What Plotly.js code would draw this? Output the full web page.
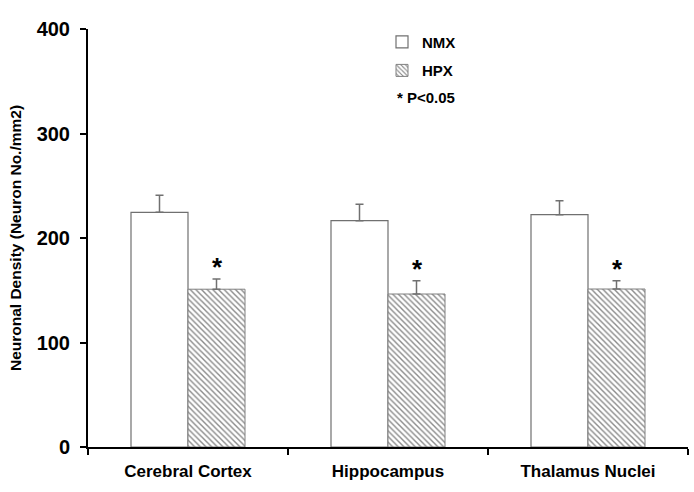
<!DOCTYPE html>
<html>
<head>
<meta charset="utf-8">
<script src="https://cdn.plot.ly/plotly-3.0.1.min.js"></script>
<style>html,body{margin:0;padding:0;background:#fff;}#chart{width:694px;height:492px;}</style>
</head>
<body>
<div id="chart"></div>
<script>
const categories = ["Cerebral Cortex", "Hippocampus", "Thalamus Nuclei"];
const nmxValues = [224.6, 216.6, 222.3];
const nmxErrors = [16.4, 15.6, 13.4];
const hpxValues = [151.0, 146.4, 151.2];
const hpxErrors = [9.8, 12.7, 8.0];
const yTicks = [0, 100, 200, 300, 400];
const sigLabel = "*";

const FONT = "Arial, 'Liberation Sans', Helvetica, sans-serif";

const traces = [
  {
    type: "bar", name: "NMX", x: categories, y: nmxValues,
    legendgroup: "a",
    marker: { color: "#ffffff", line: { color: "#707070", width: 1.2 } },
    error_y: { type: "data", symmetric: false, array: nmxErrors, arrayminus: [0,0,0], color: "#707070", thickness: 1.5, width: 4 }
  },
  {
    type: "bar", name: "HPX", x: categories, y: hpxValues,
    legendgroup: "b",
    marker: { color: "#ffffff", line: { color: "#808080", width: 1 },
      pattern: { shape: "\\", fgcolor: "#8a8a8a", bgcolor: "#ffffff", size: 4, solidity: 0.35 } },
    error_y: { type: "data", symmetric: false, array: hpxErrors, arrayminus: [0,0,0], color: "#707070", thickness: 1.5, width: 4 }
  }
];

const annotations = categories.map((c, i) => ({
  x: c, y: hpxValues[i] + hpxErrors[i], xref: "x", yref: "y",
  xshift: 29.5, yshift: -5, yanchor: "bottom", showarrow: false,
  text: sigLabel, font: { family: FONT, size: 26, color: "#000", weight: "bold" }
}));
annotations.push({
  xref: "paper", yref: "paper", x: 0.512, y: 0.837, xanchor: "left", yanchor: "middle",
  showarrow: false, text: "* P<0.05",
  font: { family: FONT, size: 15, color: "#000", weight: "bold" }
});

const layout = {
  width: 694, height: 492,
  margin: { l: 88, r: 6, t: 29, b: 45 },
  paper_bgcolor: "#fff", plot_bgcolor: "#fff",
  barmode: "group", bargap: 0.43, bargroupgap: 0,
  showlegend: true,
  legend: {
    x: 0.49, y: 1.008, xanchor: "left", yanchor: "top",
    font: { family: FONT, size: 15, color: "#000", weight: "bold" },
    traceorder: "grouped", tracegroupgap: 6, bgcolor: "rgba(0,0,0,0)",
    itemwidth: 30
  },
  xaxis: {
    type: "category", tickson: "boundaries", ticks: "outside", ticklen: 6, tickwidth: 2,
    tickcolor: "#000", showline: true, linecolor: "#000", linewidth: 2,
    showgrid: false, zeroline: false, range: [-0.5, 2.5], ticklabelstandoff: 8,
    tickfont: { family: FONT, size: 17, color: "#000", weight: "bold" }
  },
  yaxis: {
    range: [0, 400], tickvals: yTicks, ticks: "outside", ticklen: 6, tickwidth: 2,
    tickcolor: "#000", showline: true, linecolor: "#000", linewidth: 2,
    showgrid: false, zeroline: false, ticklabelstandoff: 6,
    tickfont: { family: FONT, size: 20, color: "#000", weight: "bold" },
    title: { text: "Neuronal Density (Neuron No./mm2)", standoff: 11,
      font: { family: FONT, size: 15.5, color: "#000", weight: "bold" } }
  },
  annotations: annotations
};

Plotly.newPlot("chart", traces, layout, { displayModeBar: false, staticPlot: true });
</script>
</body>
</html>
